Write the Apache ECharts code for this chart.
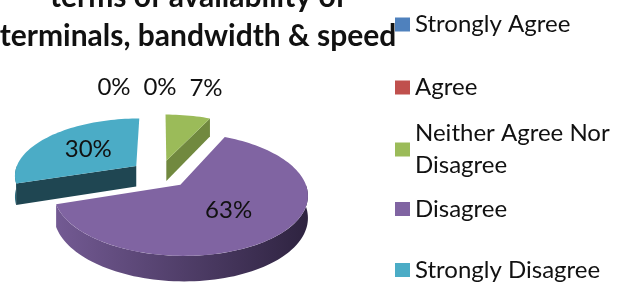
<!DOCTYPE html>
<html>
<head>
<meta charset="utf-8">
<script src="https://cdn.jsdelivr.net/npm/echarts@6/dist/echarts.min.js"></script>
<style>
  html, body { margin: 0; padding: 0; background: #fff; }
  #main { width: 629px; height: 284px; }
</style>
</head>
<body>
<div id="main"></div>
<script>
// 数据
const categories = ['Strongly Agree', 'Agree', 'Neither Agree Nor Disagree', 'Disagree', 'Strongly Disagree']
const legendLabels = ['Strongly Agree', 'Agree', 'Neither Agree Nor\nDisagree', 'Disagree', 'Strongly Disagree']
const values = [0, 0, 7, 63, 30]
const titleLines = ['terms of availability of', 'terminals, bandwidth & speed']

// 颜色
const colors = ['#4F81BD', '#C0504D', '#9BBB59', '#8064A2', '#4BACC6']
const sideColors = ['#2f4d72', '#73302e', '#71893f', '#3f3152', '#1f4652']
const wallGradients = [
  ['#3e6391', '#243a56'],
  ['#963e3c', '#5a2423'],
  ['#7d9848', '#4c5c2b'],
  ['#735a93', '#2e2340'],
  ['#2f7f93', '#1f4652'],
]
const fontFamily = 'Lato, "Noto Sans", sans-serif'

// 3D 饼图的投影参数
const pie = { cx: 160, cy: 174, r: 122, tilt: 0.466, persp: 0.15, depth: 21, explode: 30 }

function proj(x, z, dy) {
  const w = 1 + (pie.persp * z) / pie.r
  return [pie.cx + x / w, pie.cy - (pie.tilt * z) / w + (dy ? dy / w : 0)]
}

const total = values.reduce((a, b) => a + b, 0)
const slices = []
let acc = 0
values.forEach((v) => {
  const a0 = (acc / total) * 360
  const a1 = ((acc + v) / total) * 360
  acc += v
  const m = (((a0 + a1) / 2) * Math.PI) / 180
  slices.push({ a0, a1, m, ox: pie.explode * Math.sin(m), oz: pie.explode * Math.cos(m) })
})

function rimPoint(s, deg, dy) {
  const a = (deg * Math.PI) / 180
  return proj(s.ox + pie.r * Math.sin(a), s.oz + pie.r * Math.cos(a), dy)
}

function arc(s, from, to, dy) {
  const pts = []
  const n = Math.max(2, Math.ceil((to - from) / 2))
  for (let k = 0; k <= n; k++) {
    pts.push(rimPoint(s, from + ((to - from) * k) / n, dy))
  }
  return pts
}

// 标签位置：大块放里面，小块放外面（底对齐）并向左避让
const isOutside = values.map((v) => v / total < 0.15)
const labelPos = slices.map((s, i) => {
  if (!isOutside[i]) {
    const rr = 0.53 * pie.r
    return proj(s.ox + rr * Math.sin(s.m), s.oz + rr * Math.cos(s.m))
  }
  return proj(s.ox + 1.9 * pie.r * Math.sin(s.m), s.oz + 1.4 * pie.r * Math.cos(s.m))
})
const outside = slices.map((s, i) => i).filter((i) => isOutside[i])
outside.sort((a, b) => labelPos[b][0] - labelPos[a][0] || b - a)
for (let k = 1; k < outside.length; k++) {
  const prev = labelPos[outside[k - 1]]
  const cur = labelPos[outside[k]]
  if (cur[0] > prev[0] - 46) cur[0] = prev[0] - 46
}

function renderSlice(i) {
  return function (params, api) {
    const s = slices[i]
    const children = []
    const center = proj(s.ox, s.oz)
    const centerB = proj(s.ox, s.oz, pie.depth)
    if (api.value(0) > 0) {
      // 切面
      ;[
        [s.a0, s.a0 - 90],
        [s.a1, s.a1 + 90],
      ].forEach(([a, normal]) => {
        if (Math.cos((normal * Math.PI) / 180) < -0.01) {
          children.push({
            type: 'polygon',
            shape: { points: [center, rimPoint(s, a), rimPoint(s, a, pie.depth), centerB] },
            style: { fill: sideColors[i] },
          })
        }
      })
      // 外侧面
      const from = Math.max(s.a0, 90)
      const to = Math.min(s.a1, 270)
      if (to > from) {
        const top = arc(s, from, to)
        const bottom = arc(s, from, to, pie.depth).reverse()
        children.push({
          type: 'polygon',
          shape: { points: top.concat(bottom) },
          style: {
            fill: new echarts.graphic.LinearGradient(0, 0, 1, 0, [
              { offset: 0, color: wallGradients[i][0] },
              { offset: 1, color: wallGradients[i][1] },
            ]),
          },
        })
      }
      // 顶面
      children.push({
        type: 'polygon',
        shape: { points: [center].concat(arc(s, s.a0, s.a1)) },
        style: { fill: colors[i] },
      })
    }
    children.push({
      type: 'text',
      z2: 10,
      x: labelPos[i][0],
      y: labelPos[i][1],
      style: {
        text: Math.round((api.value(0) / total) * 100) + '%',
        align: 'center',
        verticalAlign: isOutside[i] ? 'bottom' : 'middle',
        fontFamily: fontFamily,
        fontSize: 24,
        fill: '#111',
      },
    })
    return { type: 'group', children }
  }
}

// 远的先画
const order = slices.map((s, i) => i).sort((a, b) => slices[b].oz - slices[a].oz)

const legendCenters = [24.5, 87.5, 149.5, 209, 270]

const myChart = echarts.init(document.getElementById('main'))
myChart.setOption({
  animation: false,
  graphic: titleLines.map((t, k) => ({
    type: 'text',
    x: 198,
    y: k === 0 ? -3 : 36.5,
    style: {
      text: t,
      align: 'center',
      verticalAlign: 'middle',
      fontFamily: fontFamily,
      fontWeight: 'bold',
      fontSize: 30,
      fill: '#111',
    },
  })),
  legend: categories.map((name, i) => ({
    data: [name],
    orient: 'vertical',
    left: 395,
    top: legendLabels[i].indexOf('\n') >= 0 ? legendCenters[i] - 48 : legendCenters[i] - 16,
    padding: 0,
    itemWidth: 15,
    itemHeight: 14,
    icon: 'rect',
    selectedMode: false,
    formatter: () => legendLabels[i],
    textStyle: {
      fontFamily: fontFamily,
      fontSize: 24,
      color: '#111',
      lineHeight: 32,
      padding: legendLabels[i].indexOf('\n') >= 0 ? [32, 0, 0, 0] : 0,
    },
  })),
  series: categories.map((name, i) => ({
    name: name,
    type: 'custom',
    coordinateSystem: 'none',
    z: 2 + order.indexOf(i),
    itemStyle: { color: colors[i] },
    data: [[values[i]]],
    renderItem: renderSlice(i),
  })),
})
</script>
</body>
</html>
